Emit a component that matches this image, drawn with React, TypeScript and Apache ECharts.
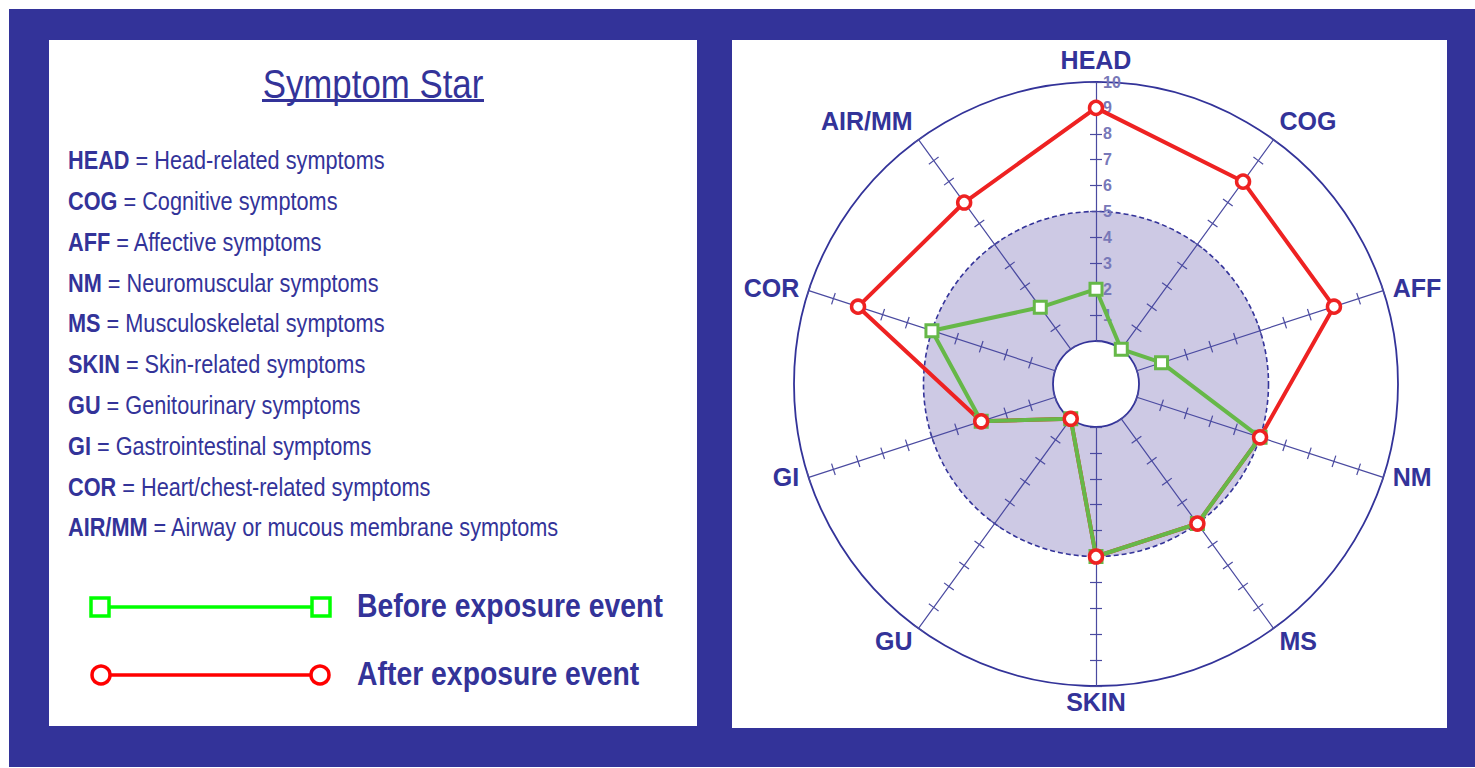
import React, { useEffect, useRef } from 'react';
import * as echarts from 'echarts';

// ---------- data ----------
const categories = ['HEAD', 'COG', 'AFF', 'NM', 'MS', 'SKIN', 'GU', 'GI', 'COR', 'AIR/MM'];
const descriptions = [
  'Head-related symptoms',
  'Cognitive symptoms',
  'Affective symptoms',
  'Neuromuscular symptoms',
  'Musculoskeletal symptoms',
  'Skin-related symptoms',
  'Genitourinary symptoms',
  'Gastrointestinal symptoms',
  'Heart/chest-related symptoms',
  'Airway or mucous membrane symptoms',
];
const beforeValues = [2, 0, 1, 5, 5, 5, 0, 3, 5, 2];
const afterValues = [9, 8, 8, 5, 5, 5, 0, 3, 8, 7];
const scaleMin = 0;
const scaleMax = 10;
const scaleSplits = 10;
const titleText = 'Symptom Star';
const legendLabels = ['Before exposure event', 'After exposure event'];

// ---------- style ----------
const NAVY = '#333399';
const SHADE = '#cdc9e4';
const GREEN_PLOT = '#66b848';
const RED_PLOT = '#ee2222';
const GREEN_LEG = '#00ff00';
const RED_LEG = '#ff0000';
const FONT = '"Liberation Sans", Arial, sans-serif';
const TRANSPARENT = 'rgba(0,0,0,0)';

// per-axis name nudges (rich token key) and name gaps
const nameNudge: Record<string, string> = {
  COG: 'up', 'AIR/MM': 'up', NM: 'upS', GI: 'upS', MS: 'down', GU: 'down',
};
const nameGaps: Record<string, number> = { SKIN: 3 };

// radar lays indicators counter-clockwise; reverse so the star runs clockwise
const order = [0, ...categories.map((_, i) => i).slice(1).reverse()];

export default function App() {
  const ref = useRef<HTMLDivElement>(null);

  useEffect(() => {
    if (!ref.current) return;
    const chart = echarts.init(ref.current, undefined, { renderer: 'svg' });

    const labelStyle = { color: '#7878b8', fontSize: 16, fontWeight: 'bold', fontFamily: FONT, margin: -7, align: 'left', showMinLabel: false };
    const indicators = order.map((i) => {
      const c = categories[i];
      const ind: any = {
        name: c, min: scaleMin, max: scaleMax,
        axisLabel: i === 0 ? { show: true, ...labelStyle } : { show: false },
      };
      if (nameGaps[c] != null) ind.nameGap = nameGaps[c];
      return ind;
    });
    const indicatorsPlain = order.map((i) => ({ name: categories[i], min: scaleMin, max: scaleMax }));

    const lineColors: string[] = [];
    for (let k = 0; k <= scaleSplits; k++) {
      lineColors.push(k === 0 || k === scaleSplits ? NAVY : TRANSPARENT);
    }

    const center = [1096, 384];
    const radius = [43, 302];
    const spoke = { lineStyle: { color: '#4a4aa0', width: 1.2 } };
    const nameFont = { color: NAVY, fontSize: 25, fontWeight: 'bold', fontFamily: FONT };

    const graphic: any[] = [
      { type: 'rect', shape: { x: 9, y: 9, width: 1466, height: 758 }, style: { fill: NAVY } },
      { type: 'rect', shape: { x: 49, y: 40, width: 648, height: 686 }, style: { fill: '#ffffff' } },
      { type: 'rect', shape: { x: 732, y: 40, width: 715, height: 688 }, style: { fill: '#ffffff' } },
      {
        type: 'text', x: 373, y: 84, scaleX: 0.85,
        style: {
          text: titleText, x: 0, y: 0, align: 'center', verticalAlign: 'middle',
          fontSize: 41, fontFamily: FONT, fill: NAVY,
        },
      },
      { type: 'rect', shape: { x: 262, y: 99, width: 222, height: 3 }, style: { fill: NAVY } },
    ];
    categories.forEach((c, i) => {
      graphic.push({
        type: 'text', x: 68, y: 160 + i * 40.8, scaleX: 0.835,
        style: {
          text: `{b|${c}}{n| = ${descriptions[i]}}`,
          x: 0, y: 0, verticalAlign: 'middle',
          rich: {
            b: { fontSize: 26, fontFamily: FONT, fontWeight: 'bold', fill: NAVY },
            n: { fontSize: 26, fontFamily: FONT, fill: NAVY },
          },
        },
      });
    });
    // legend
    graphic.push(
      { type: 'line', shape: { x1: 100, y1: 607, x2: 321, y2: 607 }, style: { stroke: GREEN_LEG, lineWidth: 3.5 } },
      { type: 'rect', shape: { x: 91, y: 598, width: 18, height: 18 }, style: { fill: '#fff', stroke: GREEN_LEG, lineWidth: 3.5 } },
      { type: 'rect', shape: { x: 312, y: 598, width: 18, height: 18 }, style: { fill: '#fff', stroke: GREEN_LEG, lineWidth: 3.5 } },
      { type: 'line', shape: { x1: 101, y1: 675, x2: 320, y2: 675 }, style: { stroke: RED_LEG, lineWidth: 3.5 } },
      { type: 'circle', shape: { cx: 101, cy: 675, r: 9 }, style: { fill: '#fff', stroke: RED_LEG, lineWidth: 3.5 } },
      { type: 'circle', shape: { cx: 320, cy: 675, r: 9 }, style: { fill: '#fff', stroke: RED_LEG, lineWidth: 3.5 } },
      {
        type: 'text', x: 357, y: 606, scaleX: 0.86,
        style: { text: legendLabels[0], x: 0, y: 0, verticalAlign: 'middle', fontSize: 33, fontWeight: 'bold', fontFamily: FONT, fill: NAVY },
      },
      {
        type: 'text', x: 357, y: 674, scaleX: 0.86,
        style: { text: legendLabels[1], x: 0, y: 0, verticalAlign: 'middle', fontSize: 33, fontWeight: 'bold', fontFamily: FONT, fill: NAVY },
      },
    );

    const beforeOrdered = order.map((i) => beforeValues[i]);
    const afterOrdered = order.map((i) => afterValues[i]);

    const common = { center, radius, shape: 'circle', startAngle: 90 };

    chart.setOption({
      animation: false,
      graphic,
      radar: [
        // 0: shaded band up to 5 with dashed boundary (drawn first, underneath)
        {
          ...common, splitNumber: 2,
          indicator: indicatorsPlain,
          axisName: { show: false },
          axisLine: { show: false },
          axisTick: { show: false },
          axisLabel: { show: false },
          splitLine: { show: true, lineStyle: { color: [TRANSPARENT, NAVY, TRANSPARENT], width: 1.6, type: [5, 3] } },
          splitArea: { show: true, areaStyle: { color: [SHADE, TRANSPARENT] } },
        },
        // 1: main axes, names, outer + inner circles, one half of each tick cross, HEAD labels
        {
          ...common, splitNumber: scaleSplits,
          indicator: indicators,
          nameGap: 10,
          axisName: {
            ...nameFont,
            formatter: (name: string) => (nameNudge[name] ? `{${nameNudge[name]}|${name}}` : name),
            rich: {
              up: { ...nameFont, padding: [0, 0, 22, 0] },
              upS: { ...nameFont, padding: [0, 0, 6, 0] },
              down: { ...nameFont, padding: [10, 0, 0, 0] },
            },
          },
          axisLine: spoke,
          axisTick: { show: true, length: 6, inside: false, lineStyle: spoke.lineStyle },
          axisLabel: { show: false },
          splitLine: { show: true, lineStyle: { color: lineColors, width: 1.8 } },
          splitArea: { show: false },
        },
        // 2: other half of each tick cross
        {
          ...common, splitNumber: scaleSplits,
          indicator: indicatorsPlain,
          axisName: { show: false },
          axisLine: { show: false },
          axisTick: { show: true, length: -6, inside: false, lineStyle: spoke.lineStyle },
          axisLabel: { show: false },
          splitLine: { show: false },
          splitArea: { show: false },
        },
      ],
      series: [
        {
          type: 'radar', radarIndex: 1, name: legendLabels[1] + ' line', symbol: 'none', silent: true,
          data: [{ value: afterOrdered, lineStyle: { color: RED_PLOT, width: 4 } }],
        },
        {
          type: 'radar', radarIndex: 1, name: legendLabels[0], symbol: 'rect', symbolSize: 12,
          data: [{
            value: beforeOrdered,
            lineStyle: { color: GREEN_PLOT, width: 4 },
            itemStyle: { color: '#ffffff', borderColor: GREEN_PLOT, borderWidth: 3 },
          }],
        },
        {
          type: 'radar', radarIndex: 1, name: legendLabels[1], symbol: 'circle', symbolSize: 13,
          data: [{
            value: afterOrdered,
            lineStyle: { width: 0, opacity: 0 },
            itemStyle: { color: '#ffffff', borderColor: RED_PLOT, borderWidth: 3.5 },
          }],
        },
      ],
    });
    return () => chart.dispose();
  }, []);

  return <div ref={ref} style={{ position: 'absolute', left: 0, top: 0, width: 1475, height: 768 }} />;
}
